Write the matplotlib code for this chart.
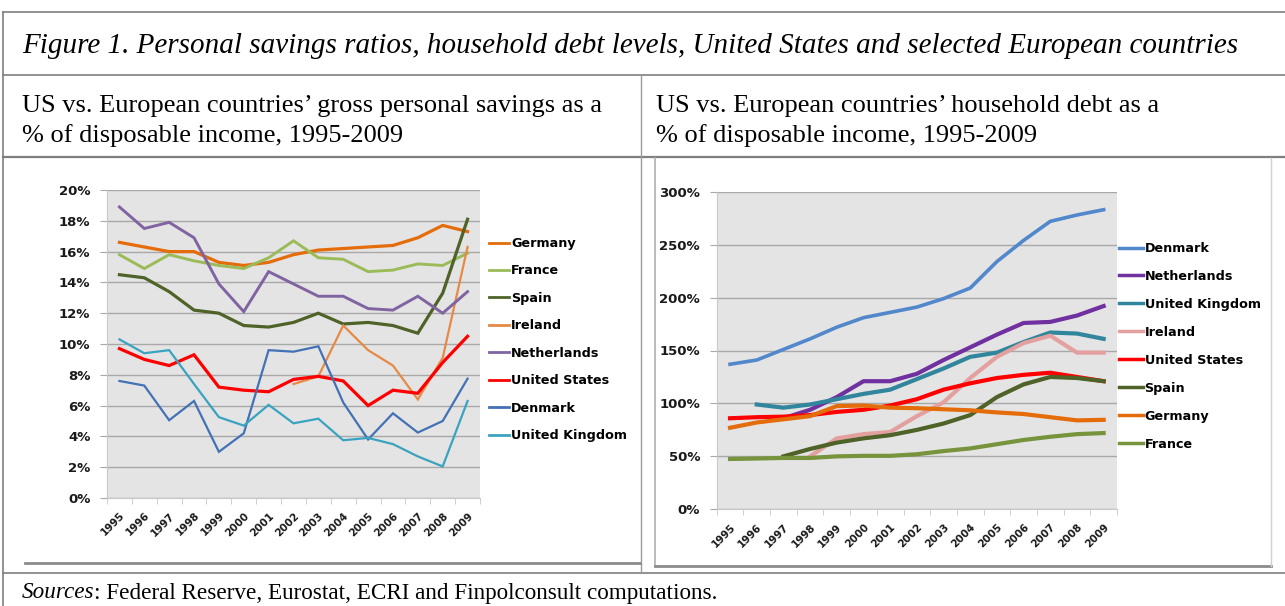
import numpy as np
import matplotlib
matplotlib.use("Agg")
import matplotlib.pyplot as plt
from matplotlib.lines import Line2D
from matplotlib.ticker import MultipleLocator, FuncFormatter

nan = np.nan
years = [str(y) for y in range(1995, 2010)]

# Left: gross personal savings, % of disposable income
sav_labels = ["Germany", "France", "Spain", "Ireland", "Netherlands",
              "United States", "Denmark", "United Kingdom"]
sav_germany = [16.6, 16.3, 16.0, 16.0, 15.3, 15.1, 15.3, 15.8, 16.1, 16.2, 16.3, 16.4, 16.9, 17.7, 17.3]
sav_france = [15.8, 14.9, 15.8, 15.4, 15.1, 14.9, 15.6, 16.7, 15.6, 15.5, 14.7, 14.8, 15.2, 15.1, 15.9]
sav_spain = [14.5, 14.3, 13.4, 12.2, 12.0, 11.2, 11.1, 11.4, 12.0, 11.3, 11.4, 11.2, 10.7, 13.3, 18.1]
sav_ireland = [nan, nan, nan, nan, nan, nan, nan, 7.4, 7.9, 11.2, 9.6, 8.6, 6.4, 9.1, 16.3]
sav_netherlands = [18.9, 17.5, 17.9, 16.9, 13.9, 12.1, 14.7, 13.9, 13.1, 13.1, 12.3, 12.2, 13.1, 12.0, 13.4]
sav_us = [9.7, 9.0, 8.6, 9.3, 7.2, 7.0, 6.9, 7.7, 7.9, 7.6, 6.0, 7.0, 6.8, 8.8, 10.5]
sav_denmark = [7.6, 7.3, 5.05, 6.3, 3.0, 4.2, 9.6, 9.5, 9.85, 6.2, 3.8, 5.5, 4.25, 5.0, 7.75]
sav_uk = [10.3, 9.4, 9.6, 7.4, 5.25, 4.7, 6.05, 4.85, 5.15, 3.75, 3.9, 3.5, 2.7, 2.05, 6.3]

# Right: household debt, % of disposable income
debt_labels = ["Denmark", "Netherlands", "United Kingdom", "Ireland",
               "United States", "Spain", "Germany", "France"]
debt_denmark = [137, 141, 151, 161, 172, 181, 186, 191, 199, 209, 234, 254, 272, 278, 283]
debt_netherlands = [nan, nan, 86, 94, 106, 121, 121, 128, 141, 153, 165, 176, 177, 183, 192]
debt_uk = [nan, 99, 96, 99, 104, 109, 113, 123, 133, 144, 148, 158, 167, 166, 161]
debt_ireland = [nan, nan, nan, 50, 67, 71, 73, 88, 101, 124, 144, 157, 164, 148, 148]
debt_us = [86, 87, 87.5, 89, 92, 94, 98, 104, 113, 119, 124, 127, 129, 125, 121]
debt_spain = [nan, nan, 50, 57, 63, 67, 70, 75, 81, 89, 106, 118, 125, 124, 121]
debt_germany = [77, 82, 85, 88, 97.5, 98, 96, 95.5, 94.5, 93.5, 91.5, 90, 87, 84, 84.5]
debt_france = [47.5, 48, 48.5, 48.5, 50, 50.5, 50.5, 52, 55, 57.5, 61.5, 65.5, 68.5, 71, 72]

sav_series = [sav_germany, sav_france, sav_spain, sav_ireland, sav_netherlands,
              sav_us, sav_denmark, sav_uk]
sav_colors = ["#E46C0A", "#9BBB59", "#4F6228", "#E68A45", "#8064A2",
              "#FF0000", "#4371B5", "#3AA3BF"]
sav_lw = [2.3, 2.1, 2.3, 1.6, 2.1, 2.3, 1.6, 1.6]

debt_series = [debt_denmark, debt_netherlands, debt_uk, debt_ireland, debt_us,
               debt_spain, debt_germany, debt_france]
debt_colors = ["#5187CB", "#7030A0", "#31859C", "#E3A09E", "#FF0000",
               "#4F6228", "#E46C0A", "#77933C"]
debt_lw = [2.6, 3.0, 3.0, 3.0, 3.0, 3.0, 3.0, 3.0]

W, H = 1285, 606
fig = plt.figure(figsize=(W / 100, H / 100), dpi=100)
fig.patch.set_facecolor("white")


def fx(px):
    return px / W


def fy(py):
    return 1 - py / H


def hline(y, x0, x1, color="#7F7F7F", lw=1.2):
    fig.add_artist(Line2D([fx(x0), fx(x1)], [fy(y), fy(y)], transform=fig.transFigure,
                          color=color, lw=lw))


def vline(x, y0, y1, color="#7F7F7F", lw=1.2):
    fig.add_artist(Line2D([fx(x), fx(x)], [fy(y0), fy(y1)], transform=fig.transFigure,
                          color=color, lw=lw))


# table frame
hline(12, 3, 1285)
hline(75, 3, 1285)
hline(157, 3, 1285, lw=1.6)
hline(573, 3, 1285)
vline(3, 12, 606)
vline(641, 75, 573, color="#9A9A9A", lw=1.0)
# chart frames
hline(563, 25, 640, color="#8C8C8C", lw=2.0)
vline(655, 158, 566, color="#B0B0B0", lw=1.2)
hline(566, 655, 1271, color="#8C8C8C", lw=2.0)
vline(1271, 158, 566, color="#D0D0D0", lw=1.0)

serif = ["Liberation Serif", "DejaVu Serif"]
sans = ["DejaVu Sans"]

fig.canvas.draw()
renderer = fig.canvas.get_renderer()


def fit(t, target_w):
    bb = t.get_window_extent(renderer)
    t.set_fontsize(t.get_fontsize() * target_w / bb.width)


t = fig.text(fx(22), fy(46), "Figure 1. Personal savings ratios, household debt levels, United States and selected European countries",
             family=serif, style="italic", fontsize=18, va="center", ha="left")
fit(t, 1218)
s1 = fig.text(fx(22), fy(106), "US vs. European countries\u2019 gross personal savings as a",
              family=serif, fontsize=15, va="center", ha="left")
fit(s1, 582)
s2 = fig.text(fx(22), fy(136), "% of disposable income, 1995-2009",
              family=serif, fontsize=s1.get_fontsize(), va="center", ha="left")
s3 = fig.text(fx(656), fy(106), "US vs. European countries\u2019 household debt as a",
              family=serif, fontsize=s1.get_fontsize(), va="center", ha="left")
s4 = fig.text(fx(656), fy(136), "% of disposable income, 1995-2009",
              family=serif, fontsize=s1.get_fontsize(), va="center", ha="left")
src1 = fig.text(fx(22), fy(593), "Sources", family=serif, style="italic", fontsize=13,
                va="center", ha="left")
src2 = fig.text(fx(22), fy(593), ": Federal Reserve, Eurostat, ECRI and Finpolconsult computations.",
                family=serif, fontsize=13, va="center", ha="left")
fig.canvas.draw()
w1 = src1.get_window_extent(renderer).width
w2 = src2.get_window_extent(renderer).width
scale = (716 - 22) / (w1 + w2)
src1.set_fontsize(13 * scale)
src2.set_fontsize(13 * scale)
fig.canvas.draw()
w1 = src1.get_window_extent(renderer).width
src2.set_position((fx(22 + w1), fy(593)))


def style(ax, ymax, step):
    ax.set_facecolor("#E4E4E4")
    ax.set_xlim(-0.5, 14.5)
    ax.set_ylim(0, ymax)
    ax.yaxis.set_major_locator(MultipleLocator(step))
    ax.yaxis.set_major_formatter(FuncFormatter(lambda v, p: f"{v:.0f}%"))
    ax.grid(axis="y", color="#A8A8A8", lw=1.0)
    ax.set_axisbelow(True)
    for s in ["top", "right"]:
        ax.spines[s].set_visible(False)
    ax.spines["left"].set_color("#C8C8C8")
    ax.spines["bottom"].set_color("#C8C8C8")
    ax.set_xticks(range(len(years)))
    ax.set_xticklabels(years, rotation=45, ha="right", va="top", rotation_mode="anchor",
                       family=sans, fontsize=7.5, fontweight="bold", color="#1A1A1A")
    ax.tick_params(axis="x", which="major", length=0, pad=9)
    ax.set_xticks(np.arange(-0.5, len(years), 1), minor=True)
    ax.tick_params(axis="x", which="minor", length=4, color="#C8C8C8")
    ax.tick_params(axis="y", length=5, color="#A8A8A8", pad=7)
    for lab in ax.get_yticklabels():
        lab.set_family(sans)
        lab.set_fontsize(9.5)
        lab.set_fontweight("bold")
        lab.set_color("#1A1A1A")


x = np.arange(len(years))

ax1 = fig.add_axes([fx(107), fy(498), (480 - 107) / W, (498 - 190) / H])
style(ax1, 20, 2)
handles = []
for ser, c, lw, lab in zip(sav_series, sav_colors, sav_lw, sav_labels):
    h, = ax1.plot(x, ser, color=c, lw=lw, label=lab, solid_joinstyle="miter")
    handles.append(h)
leg1 = ax1.legend(handles=[Line2D([], [], color=h.get_color(), lw=2) for h in handles],
                  labels=sav_labels, loc="upper left", bbox_to_anchor=(fx(489), fy(237)),
                  bbox_transform=fig.transFigure, frameon=False, borderpad=0, borderaxespad=0,
                  handlelength=1.6, handletextpad=0.15, labelspacing=1.13,
                  prop={"family": sans, "size": 9.2, "weight": "bold"})

ax2 = fig.add_axes([fx(716.7), fy(509.3), (1117 - 716.7) / W, (509.3 - 191.7) / H])
style(ax2, 300, 50)
handles = []
for ser, c, lw, lab in zip(debt_series, debt_colors, debt_lw, debt_labels):
    h, = ax2.plot(x, ser, color=c, lw=lw, label=lab)
    handles.append(h)
leg2 = ax2.legend(handles=[Line2D([], [], color=h.get_color(), lw=2.5) for h in handles],
                  labels=debt_labels, loc="upper left", bbox_to_anchor=(fx(1119), fy(242)),
                  bbox_transform=fig.transFigure, frameon=False, borderpad=0, borderaxespad=0,
                  handlelength=1.9, handletextpad=0.1, labelspacing=1.17,
                  prop={"family": sans, "size": 9.2, "weight": "bold"})

fig.savefig("out.png", dpi=100, facecolor="white")
